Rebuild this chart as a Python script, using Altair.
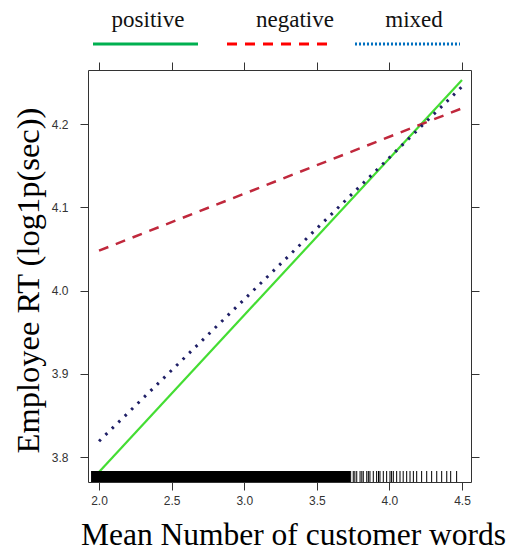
import altair as alt
import pandas as pd

# Effect of mean customer word count on employee response time, by sentiment
sentiments = ["positive", "negative", "mixed"]
x_ends = [2.0, 4.5]
fit_positive = [3.782, 4.253]
fit_negative = [4.048, 4.219]
fit_mixed = [3.819, 4.245]

# Rug of observed values: a solid band where observations are dense, single ticks beyond
rug_dense_range = [1.945, 3.73]
rug_sparse = [3.733, 3.751, 3.762, 3.775, 3.798, 3.81, 3.82, 3.844, 3.855, 3.866,
              3.889, 3.912, 3.925, 3.935, 3.958, 3.981, 4.004, 4.015, 4.027, 4.05,
              4.073, 4.095, 4.119, 4.142, 4.165, 4.188, 4.222, 4.257, 4.291, 4.326,
              4.36, 4.395, 4.422, 4.463]

x_ticks = [2.0, 2.5, 3.0, 3.5, 4.0, 4.5]
y_ticks = [3.8, 3.9, 4.0, 4.1, 4.2]
x_domain = [1.924, 4.562]
y_domain = [3.770, 4.265]

W, H = 383, 412
SERIF = "Liberation Serif"
SANS = "Liberation Sans"

fits = pd.DataFrame({
    "words": x_ends * 3,
    "rt": fit_positive + fit_negative + fit_mixed,
    "sentiment": [s for s in sentiments for _ in x_ends],
})

xs = alt.Scale(domain=x_domain, nice=False, zero=False)
ys = alt.Scale(domain=y_domain, nice=False, zero=False)

x_main = alt.X("words:Q", scale=xs,
               axis=alt.Axis(values=x_ticks, format=".1f", orient="bottom",
                             title="Mean Number of customer words",
                             titleFont=SERIF, titleFontSize=31.5, titleFontWeight="normal",
                             titleColor="#000", titleX=205, titleY=53,
                             titleAlign="center", titleBaseline="middle",
                             labelPadding=5))
y_main = alt.Y("rt:Q", scale=ys,
               axis=alt.Axis(values=y_ticks, format=".1f", orient="left",
                             title="Employee RT (log1p(sec))",
                             titleFont=SERIF, titleFontSize=32.5, titleFontWeight="normal",
                             titleColor="#000", titleX=-60, titleY=210,
                             titleAngle=-90, titleAlign="center", titleBaseline="middle",
                             labelPadding=12))
x_plain = alt.X("words:Q", scale=xs, axis=None)
y_plain = alt.Y("rt:Q", scale=ys, axis=None)

line_styles = {
    "positive": dict(color="#44dd33", strokeWidth=2.2),
    "negative": dict(color="#c0283c", strokeWidth=2.5, strokeDash=[10, 8]),
    "mixed": dict(color="#1f1f66", strokeWidth=3, strokeDash=[2.5, 6.5]),
}

line_layers = []
for i, s in enumerate(sentiments):
    d = fits[fits["sentiment"] == s]
    enc = dict(x=x_main, y=y_main) if i == 0 else dict(x=x_plain, y=y_plain)
    line_layers.append(alt.Chart(d).mark_line(**line_styles[s]).encode(**enc))

# Top and right tick marks without labels
frame_ticks = alt.Chart(fits).mark_point(opacity=0).encode(
    x=alt.X("words:Q", scale=xs,
            axis=alt.Axis(values=x_ticks, orient="top", labels=False, title=None)),
    y=alt.Y("rt:Q", scale=ys,
            axis=alt.Axis(values=y_ticks, orient="right", labels=False, title=None)),
)

rug_band = alt.Chart(pd.DataFrame({"lo": [rug_dense_range[0]], "hi": [rug_dense_range[1]]})).mark_rect(
    color="#000").encode(
    x=alt.X("lo:Q", scale=xs, axis=None), x2="hi:Q",
    y=alt.value(H - 11), y2=alt.value(H),
)
rug_ticks = alt.Chart(pd.DataFrame({"words": rug_sparse})).mark_rule(
    color="#000", strokeWidth=1).encode(
    x=x_plain,
    y=alt.value(H - 11), y2=alt.value(H),
)

# Key above the panel
legend_colors = {"positive": "#00b050", "negative": "#ff0000", "mixed": "#0070c0"}
legend_dash = {"positive": None, "negative": [10, 8], "mixed": [2, 2]}
legend_line_x = {"positive": (5, 110), "negative": (139, 239), "mixed": (267, 372)}
legend_text_x = {"positive": 60, "negative": 207, "mixed": 326}

legend_layers = []
for s in sentiments:
    x0, x1 = legend_line_x[s]
    kw = dict(color=legend_colors[s], strokeWidth=3)
    if legend_dash[s]:
        kw["strokeDash"] = legend_dash[s]
    legend_layers.append(
        alt.Chart(pd.DataFrame({"sentiment": [s]})).mark_rule(**kw).encode(
            x=alt.value(x0), x2=alt.value(x1), y=alt.value(-26))
    )
    legend_layers.append(
        alt.Chart(pd.DataFrame({"sentiment": [s]})).mark_text(
            font=SERIF, fontSize=23, color="#111", align="center", baseline="alphabetic"
        ).encode(text="sentiment:N", x=alt.value(legend_text_x[s]), y=alt.value(-43))
    )

chart = alt.layer(
    *line_layers, frame_ticks, rug_band, rug_ticks, *legend_layers
).resolve_axis(x="independent", y="independent").properties(
    width=W, height=H,
    padding={"left": 88, "top": 70, "right": 39, "bottom": 68},
    autosize=alt.AutoSizeParams(type="none"),
).configure_view(
    stroke="#333", strokeWidth=1
).configure_axis(
    domain=False, grid=False, tickColor="#333", tickSize=8, tickWidth=1,
    labelFont=SANS, labelFontSize=12, labelColor="#333"
)

chart.save("out.html", embed_options={"renderer": "svg", "actions": False})
